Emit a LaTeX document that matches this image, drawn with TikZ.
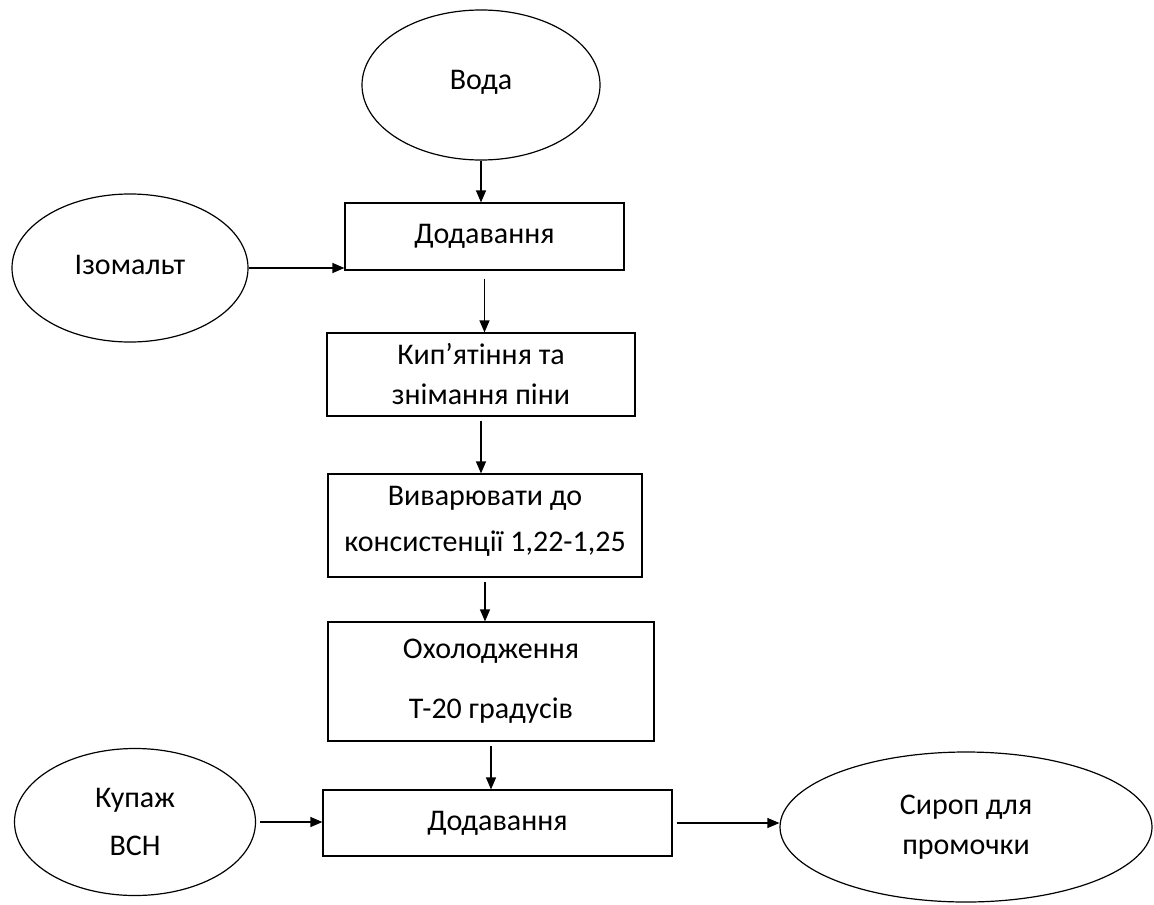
\documentclass[tikz,border=0pt]{standalone}
\usepackage{fontspec}
\setmainfont{Carlito}
\usetikzlibrary{shapes.geometric,arrows.meta}

\begin{document}
\begin{tikzpicture}[x={(0.5pt,0)},y={(0,-0.5pt)},line width=0.6pt,
  >={Triangle[length=6pt,width=5pt]},
  every node/.style={font=\fontsize{15}{20}\selectfont},
  oval/.style={draw,ellipse,inner sep=0pt},
  box/.style={draw,rectangle,inner sep=0pt,align=center}]
 % \draw[help lines] (0,0) grid (1154,904);
  \useasboundingbox (0,0) rectangle (1154,904);
  \node[oval,minimum width=119pt,minimum height=75pt] (w)  at (481,85)  {\raisebox{5pt}{Вода}};
  \node[oval,minimum width=118pt,minimum height=74pt] (iz) at (130,268) {\raisebox{3pt}{Ізомальт}};
  \node[oval,minimum width=120.5pt,minimum height=73.5pt,align=center] (kp) at (135,822) {Купаж\\[4pt]ВСН};
  \node[oval,minimum width=186pt,minimum height=75pt,align=center] (s) at (966,827) {Сироп для\\промочки};
  \node[box,minimum width=139.5pt,minimum height=33.5pt] (n1) at (484.5,236.5) {Додавання};
  \node[box,minimum width=154pt,minimum height=41.5pt]   (n2) at (481,374.5)   {Кип’ятіння та\\знімання піни};
  \node[box,minimum width=157pt,minimum height=51.5pt]   (n3) at (485,525.5)   {Виварювати до\\[3pt]консистенції 1,22-1,25\\[-13pt]\mbox{}};
  \node[box,minimum width=163pt,minimum height=59.5pt]   (n4) at (491,681.5)   {Охолодження\\[10pt]Т-20 градусів};
  \node[box,minimum width=174.5pt,minimum height=33pt]   (n5) at (497.5,823)   {Додавання};
  \path[->] (w.south)  edge (w.south |- n1.north)
            (iz.east)  edge (iz.east -| n1.west)
            (n1.south) edge [shorten <=4pt] (n1.south |- n2.north)
            (n2.south) edge [shorten <=2pt] (n2.south |- n3.north)
            (n3.south) edge [shorten <=2pt] (n3.south |- n4.north)
            (n4.south) edge [shorten <=2pt] (n4.south |- n5.north)
            (kp.east)  edge [shorten <=2pt] (kp.east -| n5.west)
            (n5.east)  edge [shorten <=2pt] (n5.east -| s.west);
 \end{tikzpicture}
\end{document}
